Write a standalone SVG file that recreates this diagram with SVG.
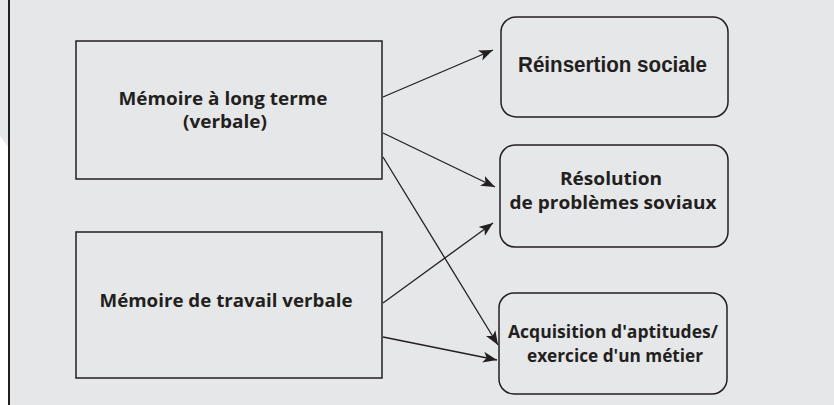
<svg xmlns="http://www.w3.org/2000/svg" width="834" height="405" viewBox="0 0 834 405">
<style>
.box{fill:none;stroke:#231f20;stroke-width:1.5}
.t{font-family:"Open Sans","Noto Sans",sans-serif;font-weight:bold;font-size:18px;fill:#231f20;text-anchor:middle}
.tc{font-family:"Liberation Sans",Arial,sans-serif;font-weight:bold;font-size:22px;fill:#231f20;text-anchor:middle}
.conn line{stroke:#231f20;stroke-width:1.3;marker-end:url(#ah)}
</style>
<defs>
<marker id="ah" markerUnits="userSpaceOnUse" markerWidth="15" markerHeight="12" refX="14" refY="5.5" orient="auto">
<path d="M0,0 L14,5.5 L0,11 L3.5,5.5 Z" fill="#231f20"/>
</marker>
</defs>
<rect x="0" y="0" width="834" height="405" fill="#ffffff"/>
<rect x="9" y="0" width="825" height="405" fill="#e6e7e8"/>
<polygon points="0,0 9,0 9,148 0,136" fill="#e6e7e8"/>
<line x1="9" y1="0" x2="9" y2="405" stroke="#231f20" stroke-width="2"/>

<g id="n1">
<rect class="box" x="76" y="41" width="306" height="138"/>
<text class="t" x="223" y="105" textLength="209" lengthAdjust="spacingAndGlyphs">Mémoire à long terme</text>
<text class="t" x="225" y="127.5" textLength="84" lengthAdjust="spacingAndGlyphs">(verbale)</text>
</g>
<g id="n2">
<rect class="box" x="76" y="232" width="306" height="146"/>
<text class="t" x="226" y="307" textLength="253" lengthAdjust="spacingAndGlyphs">Mémoire de travail verbale</text>
</g>
<g id="n3">
<rect class="box" x="501" y="17" width="227" height="100" rx="15"/>
<text class="tc" x="612.5" y="72" textLength="189" lengthAdjust="spacingAndGlyphs">Réinsertion sociale</text>
</g>
<g id="n4">
<rect class="box" x="500" y="145" width="228" height="102" rx="15"/>
<text class="t" x="611" y="185" textLength="102" lengthAdjust="spacingAndGlyphs">Résolution</text>
<text class="t" x="613" y="208.5" textLength="207" lengthAdjust="spacingAndGlyphs">de problèmes soviaux</text>
</g>
<g id="n5">
<rect class="box" x="499" y="293" width="228" height="101" rx="15"/>
<text class="t" x="613" y="338" textLength="210" lengthAdjust="spacingAndGlyphs">Acquisition d'aptitudes/</text>
<text class="t" x="615" y="362" textLength="176" lengthAdjust="spacingAndGlyphs">exercice d'un métier</text>
</g>

<g class="conn" id="connectors">
<line x1="383" y1="97" x2="493" y2="50"/>
<line x1="383" y1="133" x2="495" y2="187"/>
<line x1="383" y1="157" x2="498" y2="345"/>
<line x1="383" y1="303" x2="493" y2="223"/>
<line x1="383" y1="337" x2="497" y2="360"/>
</g>
</svg>
